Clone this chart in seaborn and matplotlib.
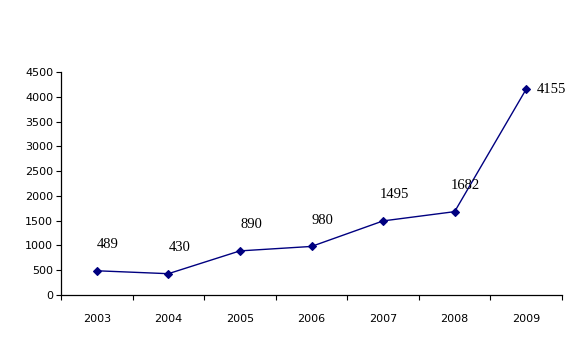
import matplotlib
matplotlib.use("Agg")
import matplotlib.pyplot as plt
import seaborn as sns
import pandas as pd
import numpy as np

years = ["2003", "2004", "2005", "2006", "2007", "2008", "2009"]
values = [489, 430, 890, 980, 1495, 1682, 4155]
y_ticks = [0, 500, 1000, 1500, 2000, 2500, 3000, 3500, 4000, 4500]

sns.set_style("white", {"xtick.bottom": True, "ytick.left": True,
                        "xtick.color": "black", "ytick.color": "black",
                        "text.color": "black", "axes.edgecolor": "black"})
plt.rcParams["font.family"] = ["DejaVu Sans"]

df = pd.DataFrame({"year": years, "value": values})

fig = plt.figure(figsize=(5.79, 3.49), dpi=100)
ax = fig.add_axes([61 / 579, 1 - 295 / 349, (562 - 61) / 579, (295 - 72) / 349])

sns.lineplot(data=df, x="year", y="value", ax=ax, color="#000080",
             marker="D", markersize=4.5, markeredgewidth=0.8,
             markeredgecolor="#000080", linewidth=1)

for i, v in enumerate(values):
    if i == len(values) - 1:
        ax.annotate(str(v), (i, v), xytext=(18, 0), textcoords="offset points",
                    ha="center", va="center", fontsize=10.5,
                    family="Liberation Serif", color="black")
    else:
        ax.annotate(str(v), (i, v), xytext=(8, 19), textcoords="offset points",
                    ha="center", va="center", fontsize=10.5,
                    family="Liberation Serif", color="black")

ax.set_xlim(-0.5, len(years) - 0.5)
ax.set_ylim(0, 4500)
ax.set_yticks(y_ticks)
ax.set_yticklabels([str(t) for t in y_ticks], fontsize=8, color="black")

ax.set_xticks(np.arange(len(years) + 1) - 0.5)
ax.set_xticklabels([])
ax.set_xticks(np.arange(len(years)), minor=True)
ax.set_xticklabels(years, minor=True, fontsize=8, color="black")
ax.tick_params(axis="x", which="major", bottom=True, direction="out",
               length=3.6, width=0.8, color="black")
ax.tick_params(axis="x", which="minor", bottom=True, length=0, pad=14)
ax.tick_params(axis="y", which="major", left=True, direction="out", length=3.6,
               width=0.8, color="black", pad=2)

ax.set_xlabel("")
ax.set_ylabel("")
for s in ["top", "right"]:
    ax.spines[s].set_visible(False)
for s in ["left", "bottom"]:
    ax.spines[s].set_color("black")
    ax.spines[s].set_linewidth(0.9)

fig.savefig("out.png", dpi=100, facecolor="white")
